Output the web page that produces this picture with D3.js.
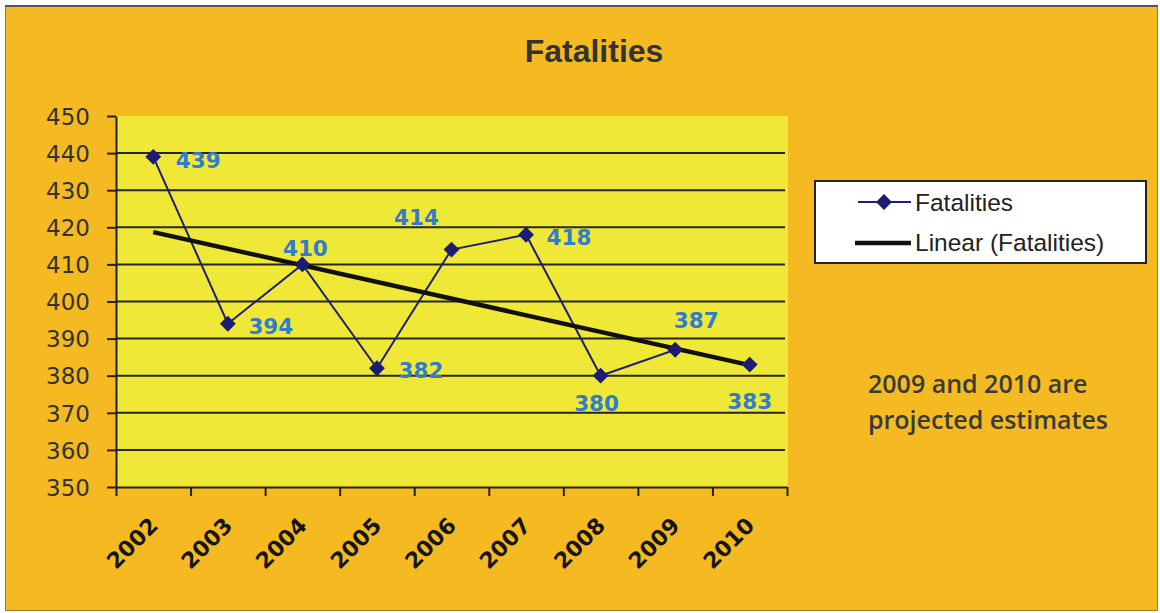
<!DOCTYPE html>
<html>
<head>
<meta charset="utf-8">
<script src="https://cdn.jsdelivr.net/npm/d3@7"></script>
<style>
  html, body { margin: 0; padding: 0; background: #fff; }
  svg { display: block; }
</style>
</head>
<body>
<div id="chart"></div>
<script>
// data
const years = ['2002', '2003', '2004', '2005', '2006', '2007', '2008', '2009', '2010'];
const fatalities = [439, 394, 410, 382, 414, 418, 380, 387, 383];
const yTicks = [350, 360, 370, 380, 390, 400, 410, 420, 430, 440, 450];
const legendLabels = ['Fatalities', 'Linear (Fatalities)'];
const noteLines = ['2009 and 2010 are', 'projected estimates'];

// where each value label sits relative to its point (excel style manual placement)
const labelOffsets = [[45, 11], [43, 10], [3, -8], [44, 10], [-35, -25], [43, 10], [-4, 35], [21, -22], [0, 44]];

const W = 1160, H = 613;
const plot = {l: 116, t: 116, r: 787, b: 487};

const svg = d3.select('#chart').append('svg')
  .attr('width', W).attr('height', H);

// outer chart area
svg.append('rect')
  .attr('x', 5.5).attr('y', 6.5).attr('width', 1152).attr('height', 604)
  .attr('fill', '#F5BA21').attr('stroke', '#9c7d1c').attr('stroke-width', 1);
svg.append('line')
  .attr('x1', 5).attr('x2', 1158).attr('y1', 6).attr('y2', 6)
  .attr('stroke', '#555').attr('stroke-width', 2);

// title
svg.append('text')
  .attr('x', 594).attr('y', 62)
  .attr('text-anchor', 'middle')
  .attr('font-family', 'Liberation Sans, Arial, sans-serif')
  .attr('font-weight', 'bold').attr('font-size', 32)
  .attr('fill', '#333')
  .text('Fatalities');

const x = d3.scaleBand().domain(years).range([plot.l, plot.r]);
const xEdge = d3.scaleLinear().domain([0, years.length]).range([plot.l, plot.r]);
const y = d3.scaleLinear().domain([350, 450]).range([plot.b, plot.t]);

// plot area
svg.append('rect')
  .attr('x', plot.l).attr('y', plot.t)
  .attr('width', plot.r - plot.l + 1).attr('height', plot.b - plot.t)
  .attr('fill', '#EFE837');

// grid
svg.append('g').selectAll('line')
  .data(yTicks.filter(d => d > 350 && d < 450))
  .join('line')
  .attr('x1', plot.l).attr('x2', plot.r - 2)
  .attr('y1', d => y(d)).attr('y2', d => y(d))
  .attr('stroke', '#262626').attr('stroke-width', 2);

// y axis
const yAxis = svg.append('g')
  .attr('transform', `translate(${plot.l},0)`)
  .call(d3.axisLeft(y).tickValues(yTicks).tickSize(9).tickSizeOuter(0).tickPadding(17));
yAxis.select('.domain').attr('stroke', '#222').attr('stroke-width', 2);
yAxis.selectAll('.tick line').attr('stroke', '#222').attr('stroke-width', 2);
yAxis.selectAll('.tick text')
  .attr('font-family', 'DejaVu Sans, Verdana, sans-serif')
  .attr('font-size', 23).attr('fill', '#333').attr('dy', '0.36em');

// x axis, ticks between categories
const xAxis = svg.append('g')
  .attr('transform', `translate(0,${plot.b})`)
  .call(d3.axisBottom(xEdge).ticks(years.length).tickSize(9).tickSizeOuter(0).tickFormat(''));
xAxis.select('.domain').attr('stroke', '#222').attr('stroke-width', 2);
xAxis.selectAll('.tick line').attr('stroke', '#222').attr('stroke-width', 2);

svg.append('g').selectAll('text')
  .data(years)
  .join('text')
  .attr('transform', d => `translate(${x(d) + x.bandwidth() / 2 + 6},${plot.b + 40}) rotate(-45)`)
  .attr('text-anchor', 'end')
  .attr('font-family', 'DejaVu Sans, Verdana, sans-serif')
  .attr('font-weight', 'bold').attr('font-size', 22)
  .attr('fill', '#161616')
  .text(d => d);

const cx = i => x(years[i]) + x.bandwidth() / 2;

// linear trend (least squares over the category index)
const n = fatalities.length;
const mx = d3.mean(fatalities, (d, i) => i);
const my = d3.mean(fatalities);
const slope = d3.sum(fatalities, (d, i) => (i - mx) * (d - my)) / d3.sum(fatalities, (d, i) => (i - mx) * (i - mx));
const trend = [0, n - 1].map(i => [cx(i), y(my + slope * (i - mx))]);

// series line
svg.append('path')
  .datum(fatalities)
  .attr('fill', 'none')
  .attr('stroke', '#1f1f78').attr('stroke-width', 2)
  .attr('d', d3.line().x((d, i) => cx(i)).y(d => y(d)));

svg.append('path')
  .datum(trend)
  .attr('fill', 'none')
  .attr('stroke', '#111').attr('stroke-width', 4.5)
  .attr('d', d3.line());

// markers
const diamond = d3.symbol().type(d3.symbolDiamond2).size(160);
svg.append('g').selectAll('path')
  .data(fatalities)
  .join('path')
  .attr('transform', (d, i) => `translate(${cx(i)},${y(d)})`)
  .attr('d', diamond)
  .attr('fill', '#1c1c70');

// value labels
svg.append('g').selectAll('text')
  .data(fatalities)
  .join('text')
  .attr('x', (d, i) => cx(i) + labelOffsets[i][0])
  .attr('y', (d, i) => y(d) + labelOffsets[i][1])
  .attr('text-anchor', 'middle')
  .attr('font-family', 'DejaVu Sans, Verdana, sans-serif')
  .attr('font-weight', 'bold').attr('font-size', 21.5)
  .attr('fill', '#2f7dcc')
  .text(d => d);

// legend
const legend = svg.append('g');
legend.append('rect')
  .attr('x', 815).attr('y', 181).attr('width', 331).attr('height', 82)
  .attr('fill', '#fff').attr('stroke', '#222').attr('stroke-width', 2);
legend.append('line')
  .attr('x1', 858).attr('x2', 911).attr('y1', 202).attr('y2', 202)
  .attr('stroke', '#1f1f78').attr('stroke-width', 2);
legend.append('path')
  .attr('transform', 'translate(884,202)')
  .attr('d', diamond)
  .attr('fill', '#1c1c70');
legend.append('line')
  .attr('x1', 855).attr('x2', 911).attr('y1', 243).attr('y2', 243)
  .attr('stroke', '#111').attr('stroke-width', 4.5);
legend.selectAll('text')
  .data(legendLabels)
  .join('text')
  .attr('x', 915)
  .attr('y', (d, i) => 211 + i * 40)
  .attr('font-family', 'Liberation Sans, Arial, sans-serif')
  .attr('font-size', 24.5).attr('fill', '#222')
  .text(d => d);

// note
svg.append('g').selectAll('text')
  .data(noteLines)
  .join('text')
  .attr('x', 868)
  .attr('y', (d, i) => 393 + i * 36)
  .attr('font-family', 'Open Sans, Noto Sans, sans-serif')
  .attr('font-weight', 600).attr('font-size', 25)
  .attr('fill', '#3a3a3a')
  .text(d => d);
</script>
</body>
</html>
